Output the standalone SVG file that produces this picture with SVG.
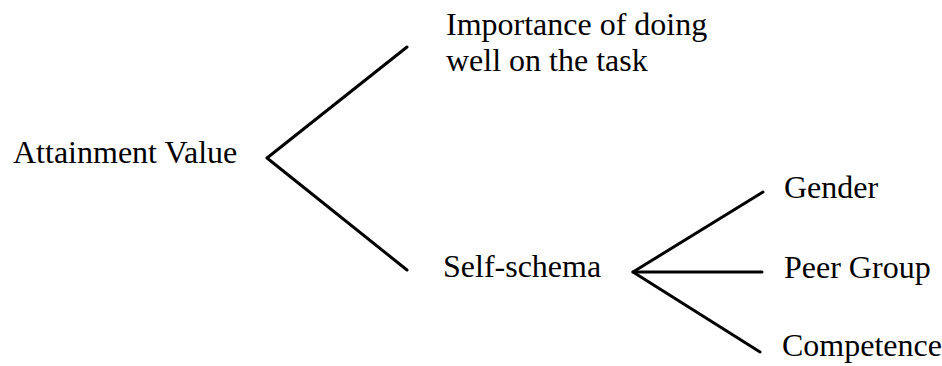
<svg xmlns="http://www.w3.org/2000/svg" width="942" height="366" viewBox="0 0 942 366">
  <style>
    .label { font-family: "Liberation Serif", "Times New Roman", serif; font-size: 32px; fill: #000; }
    .edge { stroke: #000; stroke-width: 3; fill: none; stroke-linecap: round; stroke-linejoin: round; }
  </style>
  <rect width="942" height="366" fill="#fff"/>
  <g id="connectors">
    <polyline class="edge" points="407,47 267,158 407,270"/>
    <polyline class="edge" points="763,192 633,272 760,352"/>
    <line class="edge" x1="633" y1="272" x2="762" y2="272"/>
  </g>
  <g id="attainment-value">
    <text class="label" x="13" y="163">Attainment Value</text>
  </g>
  <g id="importance">
    <text class="label" x="446" y="35">Importance of doing</text>
    <text class="label" x="446" y="71">well on the task</text>
  </g>
  <g id="self-schema">
    <text class="label" x="443" y="277">Self-schema</text>
  </g>
  <g id="gender">
    <text class="label" x="784" y="198">Gender</text>
  </g>
  <g id="peer-group">
    <text class="label" x="784" y="278">Peer Group</text>
  </g>
  <g id="competence">
    <text class="label" x="782" y="356">Competence</text>
  </g>
</svg>
